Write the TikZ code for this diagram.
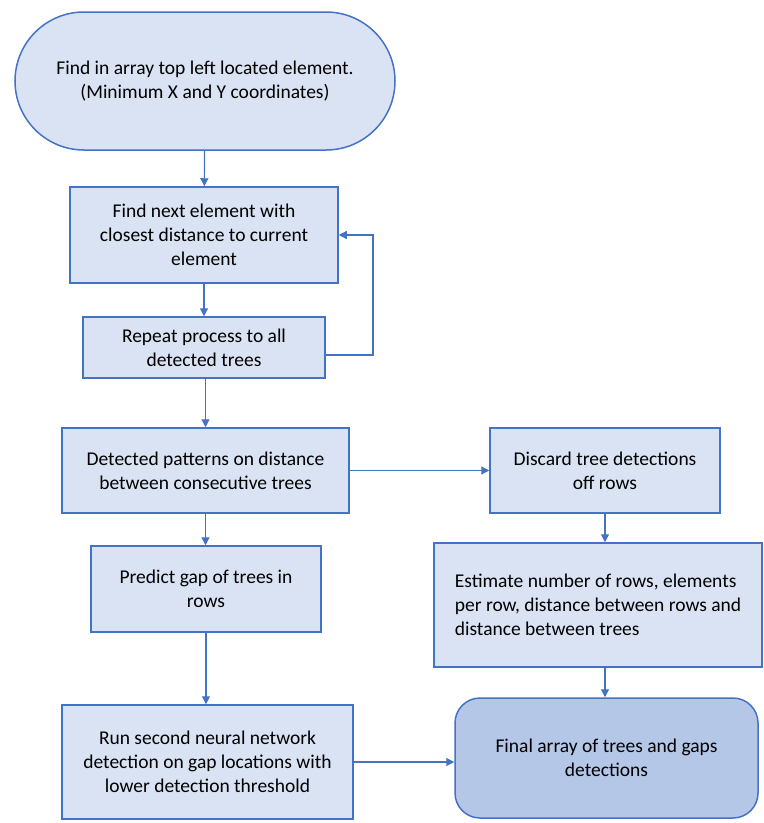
\documentclass[tikz,border=0pt]{standalone}
\usepackage{fontspec}
\setmainfont{Carlito}
\usepackage{xcolor}
\usetikzlibrary{shapes,arrows.meta,positioning,calc}

\definecolor{boxfill}{RGB}{218,227,243}
\definecolor{endfill}{RGB}{180,199,231}
\definecolor{boxline}{RGB}{68,114,196}

\tikzset{
    stepbox/.style={draw=boxline, line width=1.5pt, fill=boxfill, align=center,
        inner sep=2pt, font=\fontsize{19.5}{24}\selectfont},
    flow/.style={draw=boxline, line width=1.2pt, -{Triangle[length=8pt,width=8pt]}}
}

\begin{document}
\begin{tikzpicture}[x=1pt,y=-1pt]
    \useasboundingbox (0,0) rectangle (764,823);

    % Left column
    \node[stepbox, rounded corners=69pt, minimum width=380pt, minimum height=138pt]
        (start) at (205,81) {Find in array top left located element.\\(Minimum X and Y coordinates)};
    \node[stepbox, minimum width=268pt, minimum height=96pt]
        (next) at (204,235) {Find next element with\\closest distance to current\\element};
    \node[stepbox, minimum width=242pt, minimum height=61pt]
        (repeat) at (204,347.5) {Repeat process to all\\detected trees};
    \node[stepbox, minimum width=287pt, minimum height=85pt]
        (pattern) at (205.5,470.5) {Detected patterns on distance\\between consecutive trees};
    \node[stepbox, minimum width=230pt, minimum height=86pt]
        (predict) at (206,589) {Predict gap of trees in\\rows};
    \node[stepbox, minimum width=291pt, minimum height=114pt]
        (rerun) at (207.5,762) {Run second neural network\\detection on gap locations with\\lower detection threshold};

    % Right column
    \node[stepbox, minimum width=230pt, minimum height=85pt]
        (discard) at (605,470.5) {Discard tree detections\\off rows};
    \node[stepbox, align=left, minimum width=328pt, minimum height=124pt]
        (estimate) at (598,605) {Estimate number of rows, elements\\per row, distance between rows and\\distance between trees};
    \node[stepbox, fill=endfill, rounded corners=25pt, minimum width=303pt, minimum height=120pt]
        (final) at (606.5,758) {Final array of trees and gaps\\detections};

    % Connectors
    \draw[flow] (start) -- (next);
    \draw[flow] (next) -- (repeat);
    \coordinate (loop) at (373,355);
    \draw[flow] (repeat.east |- loop) -- (loop) |- (next.east);
    \draw[flow] (repeat.south -| pattern) -- (pattern);
    \draw[flow] (pattern) -- (pattern |- predict.north);
    \draw[flow] (predict) -- (predict |- rerun.north);
    \draw[flow] (pattern) -- (discard);
    \draw[flow] (discard.south -| 605,0) -- (estimate.north -| 605,0);
    \draw[flow] (estimate.south -| 605,0) -- (final.north -| 605,0);
    \draw[flow] (rerun) -- (rerun -| final.west);
\end{tikzpicture}
\end{document}
